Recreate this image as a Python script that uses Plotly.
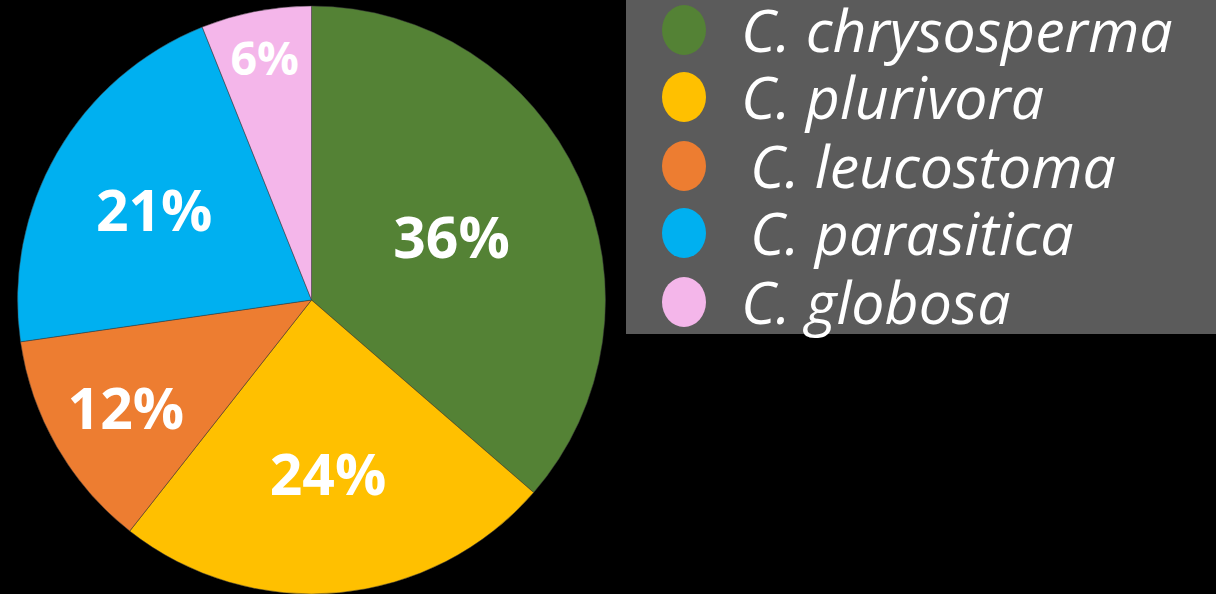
import plotly.graph_objects as go

species = ["C. chrysosperma", "C. plurivora", "C. leucostoma", "C. parasitica", "C. globosa"]
percent = [36, 24, 12, 21, 6]
colors = ["#548235", "#FFC000", "#ED7D31", "#00B0F0", "#F4B6EA"]

W, H = 1216, 594

fig = go.Figure()
fig.add_trace(go.Pie(
    labels=species,
    values=percent,
    sort=False,
    direction="clockwise",
    rotation=0,
    marker=dict(colors=colors, line=dict(color="rgba(60,60,60,0.6)", width=0.8)),
    texttemplate="%{value}%",
    textposition="inside",
    insidetextorientation="horizontal",
    textfont=dict(family="Open Sans", size=57, color="white", weight="bold"),
    showlegend=False,
    hoverinfo="label+percent",
    domain=dict(x=[(311.5 - 294) / W, (311.5 + 294) / W], y=[0.0, 588 / H]),
))

# legend box drawn manually (large circular markers)
shapes = [dict(type="rect", xref="paper", yref="paper",
               x0=626 / W, x1=1.0, y0=1 - 334 / H, y1=1.0,
               fillcolor="#5B5B5B", line=dict(width=0), layer="below")]
annotations = []
row_y = [30, 97, 166, 233, 302]
row_indent = [0, 0, 9, 9, 0]
for name, col, yy, ind in zip(species, colors, row_y, row_indent):
    shapes.append(dict(type="circle", xref="paper", yref="paper",
                       x0=(684 - 22) / W, x1=(684 + 22) / W,
                       y0=1 - (yy + 25) / H, y1=1 - (yy - 25) / H,
                       fillcolor=col, line=dict(width=0)))
    annotations.append(dict(text=name, xref="paper", yref="paper",
                            x=(739 + ind) / W, y=1 - (yy - 1) / H, xanchor="left", yanchor="middle",
                            showarrow=False,
                            font=dict(family="Open Sans", size=59, color="white", style="italic")))

fig.update_layout(
    width=W, height=H,
    margin=dict(l=0, r=0, t=0, b=0),
    paper_bgcolor="black",
    plot_bgcolor="black",
    shapes=shapes,
    annotations=annotations,
)

fig.write_html("out.html", config={"displayModeBar": False},
               post_script="document.body.style.margin='0';document.body.style.background='black';")
